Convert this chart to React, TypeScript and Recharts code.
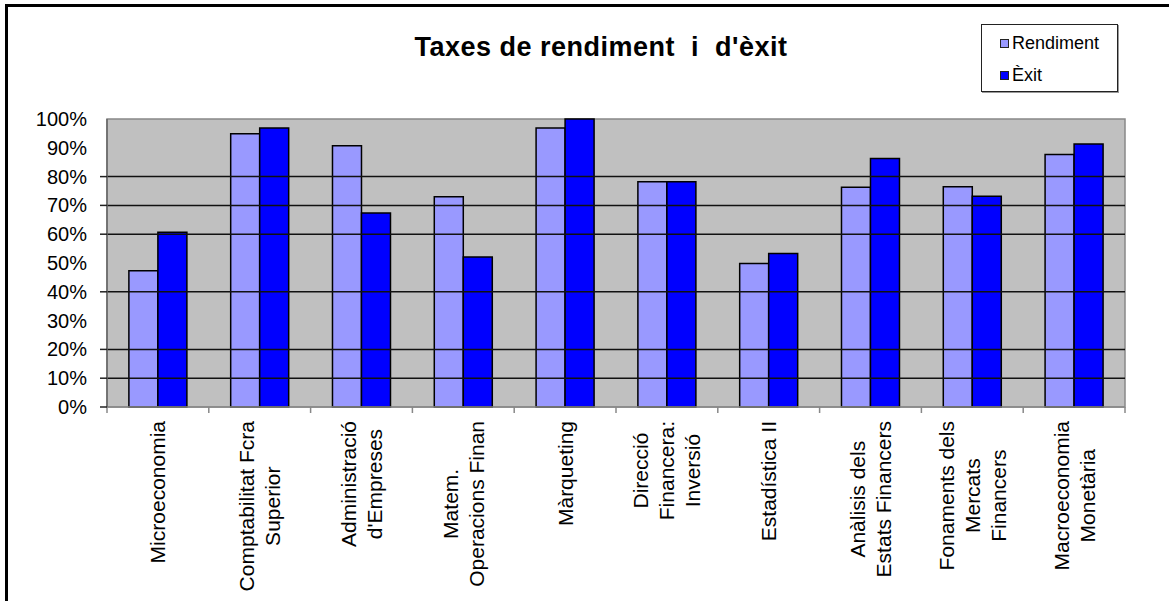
import React from "react";
import { BarChart, Bar, XAxis, YAxis, CartesianGrid, ReferenceLine, ReferenceArea, Legend } from "recharts";

const categories = [
  "Microeconomia",
  "Comptabilitat Fcra\nSuperior",
  "Administració\nd'Empreses",
  "Matem.\nOperacions Finan",
  "Màrqueting",
  "Direcció\nFinancera:\nInversió",
  "Estadística II",
  "Anàlisis dels\nEstats Financers",
  "Fonaments dels\nMercats\nFinancers",
  "Macroeconomia\nMonetària",
];
const rendiment = [0.473, 0.949, 0.907, 0.73, 0.969, 0.782, 0.498, 0.763, 0.765, 0.877];
const exit = [0.607, 0.969, 0.674, 0.521, 1.0, 0.782, 0.533, 0.863, 0.732, 0.913];
const yTicks = [0, 0.1, 0.2, 0.3, 0.4, 0.5, 0.6, 0.7, 0.8, 0.9, 1];
const gridValues = [0.1, 0.2, 0.4, 0.6, 0.7, 0.8];
const tickMarkValues = [0, 0.1, 0.2, 0.4, 0.6, 0.7, 0.8];
const seriesNames = ["Rendiment", "Èxit"];
const title = "Taxes de rendiment  i  d'èxit";

const data = categories.map((c, i) => ({ name: c, r: rendiment[i], e: exit[i] }));

const W = 1169;
const H = 601;
const PLOT_LEFT = 107;
const PLOT_RIGHT = 1125;
const PLOT_TOP = 119;
const PLOT_BOTTOM = 407;
const BAND = (PLOT_RIGHT - PLOT_LEFT) / categories.length;
const LABEL_FONT = "21px 'Liberation Sans', Arial, sans-serif";

let measureCtx: CanvasRenderingContext2D | null = null;
function measure(t: string): number {
  if (!measureCtx) {
    const c = document.createElement("canvas");
    measureCtx = c.getContext("2d");
  }
  if (!measureCtx) return t.length * 10;
  measureCtx.font = LABEL_FONT;
  return measureCtx.measureText(t).width;
}

const XTick = (props: any) => {
  const { x, y, payload, index } = props;
  const lines: string[] = String(payload.value).split("\n");
  const maxLen = Math.max(...lines.map(measure));
  const lh = 26;
  const n = lines.length;
  const top = y + 14;
  return (
    <g>
      <line x1={x - BAND / 2} x2={x - BAND / 2} y1={y} y2={y + 6} stroke="#888" strokeWidth={1.5} />
      {index === categories.length - 1 && (
        <line x1={x + BAND / 2} x2={x + BAND / 2} y1={y} y2={y + 6} stroke="#888" strokeWidth={1.5} />
      )}
      <g transform={`translate(${x},${top}) rotate(-90)`}>
        {lines.map((ln, i) => (
          <text
            key={i}
            x={-maxLen / 2}
            y={(i - (n - 1) / 2) * lh}
            textAnchor="middle"
            dominantBaseline="central"
            style={{ font: LABEL_FONT }}
            fill="#000"
          >
            {ln}
          </text>
        ))}
      </g>
    </g>
  );
};

const YTick = (props: any) => {
  const { x, y, payload } = props;
  const v = payload.value;
  const hasMark = tickMarkValues.some((t) => Math.abs(t - v) < 1e-9);
  return (
    <g>
      {hasMark && <line x1={x - 7} x2={x} y1={y} y2={y} stroke="#222" strokeWidth={1.5} />}
      <text
        x={x - 20}
        y={y}
        textAnchor="end"
        dominantBaseline="central"
        style={{ font: "20px 'Liberation Sans', Arial, sans-serif" }}
        fill="#000"
      >
        {Math.round(v * 100) + "%"}
      </text>
    </g>
  );
};

const LegendContent = () => {
  const colors = ["#9999FF", "#0000FF"];
  return (
    <div
      style={{
        width: 137,
        height: 68,
        boxSizing: "border-box",
        border: "1px solid #222",
        background: "#fff",
        boxShadow: "1px 1px 0 #999",
        position: "relative",
        fontFamily: "'Liberation Sans', Arial, sans-serif",
        fontSize: 18,
      }}
    >
      {seriesNames.map((s, i) => (
        <div
          key={s}
          style={{
            position: "absolute",
            left: 18,
            top: i === 0 ? 8 : 40,
            height: 20,
            display: "flex",
            alignItems: "center",
          }}
        >
          <span
            style={{
              display: "inline-block",
              width: 7,
              height: 7,
              border: "1.5px solid #222",
              background: colors[i],
              marginRight: 3,
            }}
          />
          <span style={{ lineHeight: "20px" }}>{s}</span>
        </div>
      ))}
    </div>
  );
};

export default function App() {
  return (
    <div
      style={{
        position: "absolute",
        left: 0,
        top: 0,
        width: W,
        height: H,
        overflow: "hidden",
        background: "#fff",
      }}
    >
      <BarChart
        width={W}
        height={H}
        data={data}
        margin={{ top: PLOT_TOP, right: W - PLOT_RIGHT, left: 10, bottom: 10 }}
        barCategoryGap="21.5%"
        barGap={0}
      >
        <CartesianGrid horizontal={false} vertical={false} fill="#C0C0C0" />
        {gridValues.map((g) => (
          <ReferenceLine key={g} y={g} stroke="#111" strokeWidth={1.5} />
        ))}
        <ReferenceArea y1={0} y2={1} fill="none" stroke="#888" strokeWidth={1.5} ifOverflow="visible" />
        <XAxis
          dataKey="name"
          interval={0}
          height={H - PLOT_BOTTOM - 10}
          tickLine={false}
          tickSize={0}
          tickMargin={0}
          axisLine={{ stroke: "#888", strokeWidth: 1.5 }}
          tick={<XTick />}
        />
        <YAxis
          domain={[0, 1]}
          ticks={yTicks}
          interval={0}
          width={PLOT_LEFT - 10}
          tickLine={false}
          tickSize={0}
          tickMargin={0}
          axisLine={{ stroke: "#666", strokeWidth: 1.5 }}
          tick={<YTick />}
        />
        <Bar dataKey="r" name={seriesNames[0]} fill="#9999FF" stroke="#000" strokeWidth={1.5} isAnimationActive={false} />
        <Bar dataKey="e" name={seriesNames[1]} fill="#0000FF" stroke="#000" strokeWidth={1.5} isAnimationActive={false} />
        <Legend
          layout="vertical"
          align="center"
          verticalAlign="middle"
          wrapperStyle={{ left: 981, top: 24, width: 137, height: 68 }}
          content={<LegendContent />}
        />
      </BarChart>
      <div
        style={{
          position: "absolute",
          left: 301,
          top: 34,
          width: 600,
          textAlign: "center",
          whiteSpace: "pre",
          fontFamily: "'Liberation Sans', Arial, sans-serif",
          fontWeight: "bold",
          fontSize: 27,
          lineHeight: "27px",
          letterSpacing: 0.5,
          color: "#000",
          pointerEvents: "none",
        }}
      >
        {title}
      </div>
      <div
        style={{
          position: "absolute",
          left: 5,
          top: 4,
          width: 1300,
          height: 800,
          border: "3px solid #000",
          pointerEvents: "none",
        }}
      />
    </div>
  );
}
